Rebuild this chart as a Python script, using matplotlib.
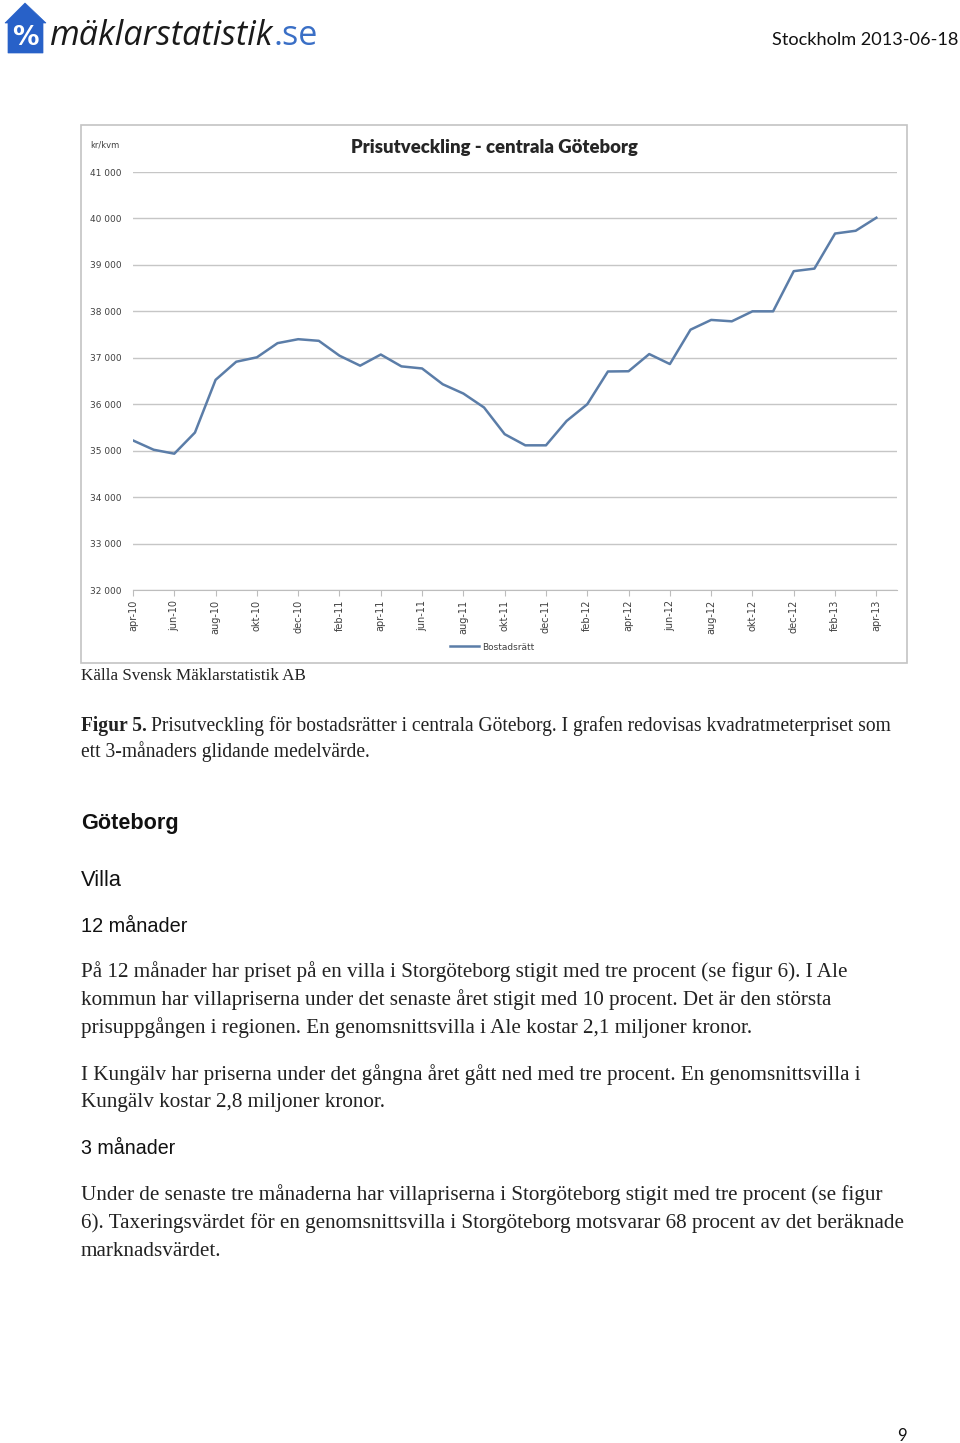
import matplotlib
matplotlib.use("Agg")
import matplotlib.pyplot as plt
from matplotlib.patches import Polygon, Rectangle
from matplotlib.ticker import FuncFormatter

# monthly series apr-10 .. apr-13, kr/kvm, 3-month moving average
months = ["apr-10", "maj-10", "jun-10", "jul-10", "aug-10", "sep-10", "okt-10", "nov-10",
          "dec-10", "jan-11", "feb-11", "mar-11", "apr-11", "maj-11", "jun-11", "jul-11",
          "aug-11", "sep-11", "okt-11", "nov-11", "dec-11", "jan-12", "feb-12", "mar-12",
          "apr-12", "maj-12", "jun-12", "jul-12", "aug-12", "sep-12", "okt-12", "nov-12",
          "dec-12", "jan-13", "feb-13", "mar-13", "apr-13"]
bostadsratt = [35220, 35020, 34935, 35390, 36525, 36915, 37010, 37315, 37400, 37365,
               37045, 36830, 37070, 36815, 36770, 36430, 36230, 35930, 35355, 35115,
               35115, 35640, 36000, 36705, 36710, 37080, 36865, 37605, 37815, 37785,
               38000, 38000, 38865, 38920, 39675, 39735, 40015]
yticks = [32000, 33000, 34000, 35000, 36000, 37000, 38000, 39000, 40000, 41000]

W, H = 960, 1443
fig = plt.figure(figsize=(W / 100, H / 100), dpi=100)
fig.patch.set_facecolor("white")
r = fig.canvas.get_renderer()

# page layer in pixel coordinates
page = fig.add_axes([0, 0, 1, 1])
page.set_xlim(0, W)
page.set_ylim(H, 0)
page.axis("off")


def fit(x, y, s, width, base=12, **kw):
    t = page.text(x, y, s, fontsize=base, **kw)
    bb = t.get_window_extent(r)
    t.set_fontsize(base * width / bb.width)
    return t


# logo
blue = "#2861c8"
house = Polygon([(5, 23), (25, 3), (46, 23), (43, 23), (43, 53), (8, 53), (8, 23)],
                closed=True, facecolor=blue, edgecolor=blue, lw=0.5)
page.add_patch(house)
page.text(25.5, 38, "%", color="white", fontsize=19, fontweight="bold",
          ha="center", va="center", family="DejaVu Sans")
t_logo = fit(49, 45, "mäklarstatistik", 224, base=24, family="Open Sans",
             style="italic", color="#1a1a1a", va="baseline")
bb = t_logo.get_window_extent(r)
page.text(bb.x1 + 1, 45, ".se", fontsize=t_logo.get_fontsize(), family="Open Sans",
          color="#3a6fc6", va="baseline")

fit(958, 40, "Stockholm 2013-06-18", 185, base=13, family="Lato", color="#111111",
    ha="right", va="center")

# chart frame
page.add_patch(Rectangle((81, 125), 826, 538, facecolor="white", edgecolor="#c4c4c4", lw=1.2))
fit(494, 147, "Prisutveckling - centrala Göteborg", 285, base=11, family="Lato",
    fontweight="heavy", color="#262626", ha="center", va="center")
page.text(90, 145, "kr/kvm", fontsize=6, family=["Liberation Sans Narrow", "DejaVu Sans"],
          color="#404040", va="center")

ax = fig.add_axes([133 / W, 1 - 590 / H, (897 - 133) / W, (590 - 172) / H])
ax.set_facecolor("none")
x = list(range(len(months)))
ax.plot(x, bostadsratt, color="#5b7da8", lw=1.8, label="Bostadsrätt")
ax.set_xlim(0, 37)
ax.set_ylim(32000, 41000)
ax.set_yticks(yticks)
ax.yaxis.set_major_formatter(FuncFormatter(lambda v, p: f"{v:,.0f}".replace(",", " ")))
ax.set_xticks(x[::2])
ax.set_xticklabels(months[::2], rotation=90)
ax.grid(axis="y", color="#c6c6c6", lw=1)
ax.set_axisbelow(True)
for s in ["top", "right", "left"]:
    ax.spines[s].set_visible(False)
ax.spines["bottom"].set_color("#bdbdbd")
ax.tick_params(axis="y", length=0, pad=8, labelsize=6.5, labelcolor="#404040")
ax.tick_params(axis="x", length=4, width=0.8, color="#bdbdbd", pad=3,
               labelsize=7, labelcolor="#404040")
for lab in ax.get_xticklabels() + ax.get_yticklabels():
    lab.set_family(["Liberation Sans Narrow", "DejaVu Sans"])
leg = ax.legend(loc="center", bbox_to_anchor=(492 / W, 1 - 647 / H),
                bbox_transform=fig.transFigure, frameon=False, handlelength=3.2,
                handletextpad=0.3, prop={"size": 6.5, "family": ["Liberation Sans Narrow", "DejaVu Sans"]})
for t in leg.get_texts():
    t.set_color("#404040")

# text below chart
serif = "Liberation Serif"
txt = "#222222"
fit(81, 676, "Källa Svensk Mäklarstatistik AB", 225, base=11, family=serif, color=txt, va="center")

p1 = fit(81, 972, "På 12 månader har priset på en villa i Storgöteborg stigit med tre procent (se figur 6). I Ale",
         766, base=13, family=serif, color=txt, va="center")
fs = p1.get_fontsize()

# caption: bold lead + regular rest, fitted to the reference line width
cap_rest = "Prisutveckling för bostadsrätter i centrala Göteborg. I grafen redovisas kvadratmeterpriset som"
tb = page.text(81, 726, "Figur 5.", fontsize=fs, family=serif, fontweight="bold", color=txt, va="center")
tr = page.text(0, 726, cap_rest, fontsize=fs, family=serif, color=txt, va="center")
total = tb.get_window_extent(r).width + 4 + tr.get_window_extent(r).width
cfs = fs * 807 / total
tb.set_fontsize(cfs)
tr.set_fontsize(cfs)
tr.set_x(tb.get_window_extent(r).x1 + 4)
page.text(81, 752, "ett 3-månaders glidande medelvärde.", fontsize=cfs, family=serif, color=txt, va="center")

sans = "Liberation Sans"
fit(81, 823, "Göteborg", 98, base=15, family=sans, fontweight="bold", color="#111111", va="center")
fit(81, 880, "Villa", 41, base=15, family=sans, color="#111111", va="center")
fit(81, 926, "12 månader", 107, base=14, family=sans, color="#111111", va="center")
fit(81, 1149, "3 månader", 95, base=14, family=sans, color="#111111", va="center")

body = [
    (1000, "kommun har villapriserna under det senaste året stigit med 10 procent. Det är den största"),
    (1028, "prisuppgången i regionen. En genomsnittsvilla i Ale kostar 2,1 miljoner kronor."),
    (1075, "I Kungälv har priserna under det gångna året gått ned med tre procent. En genomsnittsvilla i"),
    (1103, "Kungälv kostar 2,8 miljoner kronor."),
    (1195, "Under de senaste tre månaderna har villapriserna i Storgöteborg stigit med tre procent (se figur"),
    (1223, "6). Taxeringsvärdet för en genomsnittsvilla i Storgöteborg motsvarar 68 procent av det beräknade"),
    (1251, "marknadsvärdet."),
]
for yy, s in body:
    page.text(81, yy, s, fontsize=fs, family=serif, color=txt, va="center")

page.text(902, 1436, "9", fontsize=12, family="Lato", color="#111111", ha="center", va="center")

fig.savefig("out.png", dpi=100, facecolor="white")
